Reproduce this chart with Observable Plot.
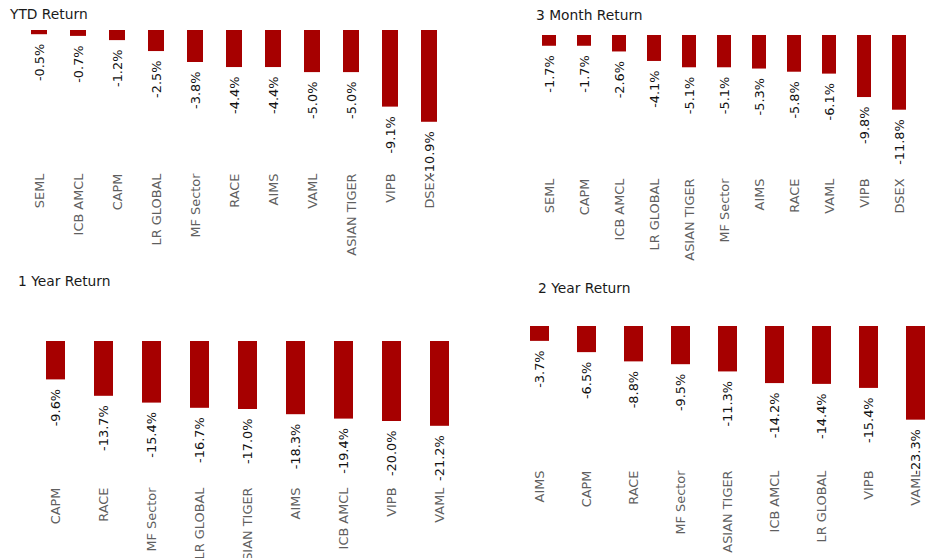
<!DOCTYPE html>
<html>
<head>
<meta charset="utf-8">
<script src="https://cdn.jsdelivr.net/npm/d3@7"></script>
<script src="https://cdn.jsdelivr.net/npm/@observablehq/plot@0.6"></script>
<style>
  html, body { margin: 0; padding: 0; background: #fff; }
  #root { position: relative; width: 933px; height: 558px; overflow: hidden; background: #fff; }
  .panel { position: absolute; }
  .title { position: absolute; font-family: "DejaVu Sans", Verdana, sans-serif; font-size: 13.8px; line-height: 16px; color: #1a1a1a; white-space: nowrap; }
</style>
</head>
<body>
<div id="root"></div>
<script>
// ---- Data ----
const ytdCats = ["SEML", "ICB AMCL", "CAPM", "LR GLOBAL", "MF Sector", "RACE", "AIMS", "VAML", "ASIAN TIGER", "VIPB", "DSEX"];
const ytdVals = [-0.5, -0.7, -1.2, -2.5, -3.8, -4.4, -4.4, -5.0, -5.0, -9.1, -10.9];

const m3Cats = ["SEML", "CAPM", "ICB AMCL", "LR GLOBAL", "ASIAN TIGER", "MF Sector", "AIMS", "RACE", "VAML", "VIPB", "DSEX"];
const m3Vals = [-1.7, -1.7, -2.6, -4.1, -5.1, -5.1, -5.3, -5.8, -6.1, -9.8, -11.8];

const y1Cats = ["CAPM", "RACE", "MF Sector", "LR GLOBAL", "ASIAN TIGER", "AIMS", "ICB AMCL", "VIPB", "VAML"];
const y1Vals = [-9.6, -13.7, -15.4, -16.7, -17.0, -18.3, -19.4, -20.0, -21.2];

const y2Cats = ["AIMS", "CAPM", "RACE", "MF Sector", "ASIAN TIGER", "ICB AMCL", "LR GLOBAL", "VIPB", "VAML"];
const y2Vals = [-3.7, -6.5, -8.8, -9.5, -11.3, -14.2, -14.4, -15.4, -23.3];

const titles = ["YTD Return", "3 Month Return", "1 Year Return", "2 Year Return"];

// ---- Layout (positions/sizes only) ----
const panels = [
  {cats: ytdCats, vals: ytdVals, title: titles[0], left: 0,   top: 0,   width: 466, height: 260, ml: 22, mr: 20, barTop: 30, k: 8.42, catTop: 173, tx: 10, tBase: 18.5},
  {cats: m3Cats,  vals: m3Vals,  title: titles[1], left: 466, top: 0,   width: 467, height: 260, ml: 66, mr: 17, barTop: 35, k: 6.33, catTop: 178, tx: 70, tBase: 20},
  {cats: y1Cats,  vals: y1Vals,  title: titles[2], left: 0,   top: 260, width: 466, height: 298, ml: 37, mr: 8,  barTop: 81, k: 4.0,  catTop: 227, tx: 18, tBase: 26},
  {cats: y2Cats,  vals: y2Vals,  title: titles[3], left: 466, top: 260, width: 467, height: 298, ml: 57, mr: 1,  barTop: 66, k: 4.02, catTop: 210, tx: 72, tBase: 33}
];

const BAR = "#a60000";
const FONT = "DejaVu Sans, Verdana, sans-serif";
const FS = 12.9;
const root = document.getElementById("root");

for (const p of panels) {
  const data = p.cats.map((c, i) => ({cat: c, val: p.vals[i]}));
  const tickPad = 2;
  const axisY = p.catTop - tickPad;
  const yMin = -(axisY - p.barTop) / p.k;

  const div = document.createElement("div");
  div.className = "panel";
  div.style.left = p.left + "px";
  div.style.top = p.top + "px";
  div.style.width = p.width + "px";
  div.style.height = p.height + "px";

  const chart = Plot.plot({
    width: p.width,
    height: p.height,
    marginTop: p.barTop,
    marginBottom: p.height - axisY,
    marginLeft: p.ml,
    marginRight: p.mr,
    style: {fontFamily: FONT, fontSize: FS + "px", background: "transparent", overflow: "visible"},
    x: {domain: p.cats, paddingInner: 0.6, paddingOuter: 0.15, axis: null},
    y: {domain: [yMin, 0], axis: null},
    marks: [
      Plot.barY(data, {x: "cat", y: "val", fill: BAR}),
      Plot.text(data, {
        x: "cat", y: "val",
        text: d => d.val.toFixed(1) + "%",
        rotate: -90, textAnchor: "end", dy: 9,
        fill: "#111", fontSize: FS
      }),
      Plot.axisX({
        anchor: "bottom", tickSize: 0, tickPadding: tickPad, tickRotate: -90,
        fill: "#5f5f5f", fontSize: FS, label: null
      })
    ]
  });
  chart.style.position = "absolute";
  chart.style.left = "0px";
  chart.style.top = "0px";
  div.appendChild(chart);

  const t = document.createElement("div");
  t.className = "title";
  t.textContent = p.title;
  t.style.left = p.tx + "px";
  t.style.top = (p.tBase - 12.9) + "px";
  div.appendChild(t);

  root.appendChild(div);
}
</script>
</body>
</html>
